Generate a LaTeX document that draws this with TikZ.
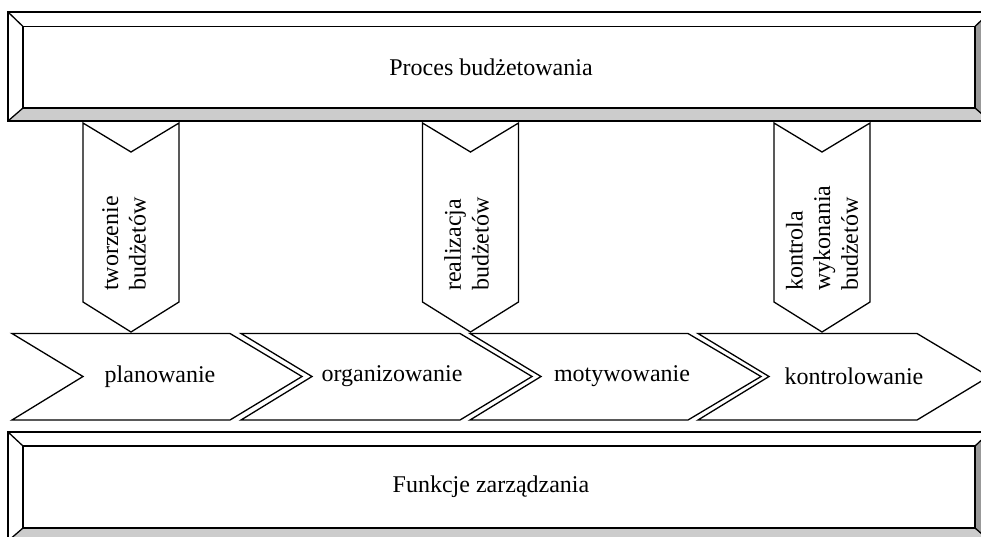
\documentclass[tikz,border=0pt]{standalone}
\usepackage{fontspec}
\setmainfont{Liberation Serif}
\definecolor{bevlight}{HTML}{CCCCCC}
\definecolor{bevdark}{HTML}{999999}
\begin{document}
\begin{tikzpicture}[x=1pt,y=-1pt,
  ln/.style={draw=black, line width=1.3pt, line join=miter, fill=white},
  bx/.style={draw=black, line width=1.3pt},
  lbl/.style={font=\fontsize{24}{27.6}\selectfont, inner sep=0pt},
  vlbl/.style={lbl, rotate=90, anchor=west, align=left}]
\useasboundingbox (0,0) rectangle (981,536);
\clip (0,0) rectangle (981,536);
\fill[white] (0,0) rectangle (981,536);

% ---- top bevel box ----
\fill[white] (8,12) rectangle (990,121);
\fill[bevlight] (8,121) -- (23,108) -- (975,108) -- (990,121) -- cycle;
\fill[bevdark] (975,26) -- (990,12) -- (990,121) -- (975,108) -- cycle;
\draw[bx] (8,12) rectangle (990,121);
\draw[bx] (23,26.5) rectangle (975,108);
\draw[bx] (8,12) -- (23,26.5) (990,12) -- (975,26.5) (8,121) -- (23,108) (990,121) -- (975,108);
\node[lbl] (proc) at (491,67) {Proces budżetowania};

% ---- bottom bevel box ----
\fill[white] (8,432) rectangle (990,541);
\fill[bevlight] (8,541) -- (23,528) -- (975,528) -- (990,541) -- cycle;
\fill[bevdark] (975,446) -- (990,432) -- (990,541) -- (975,528) -- cycle;
\draw[bx] (8,432) rectangle (990,541);
\draw[bx] (23,446) rectangle (975,528);
\draw[bx] (8,432) -- (23,446) (990,432) -- (975,446) (8,541) -- (23,528) (990,541) -- (975,528);
\node[lbl] (funk) at (491,487) {Funkcje zarządzania};

% ---- chevrons ----
\foreach \L/\R/\T in {12/230/302, 241/460/532, 470/688/761, 698/917/989}{
  \draw[ln] (\L,333.5) -- (\R,333.5) -- (\T,376.5) -- (\R,420) -- (\L,420) -- (\L+71,376.5) -- cycle;
}
\node[lbl] (plan) at (160,376.5) {planowanie};
\node[lbl] (org) at (392,376.5) {organizowanie};
\node[lbl] (mot) at (622,376.5) {motywowanie};
\node[lbl] (kon) at (854,376.5) {kontrolowanie};

% ---- down arrows ----
\foreach \X in {131,470.5,822}{
  \draw[ln] (\X-48,123) -- (\X,152) -- (\X+48,123) -- (\X+48,302) -- (\X,332) -- (\X-48,302) -- cycle;
}
\node[vlbl] (t1) at (124,291) {tworzenie\\budżetów};
\node[vlbl] (t2) at (466.5,291) {realizacja\\budżetów};
\node[vlbl] (t3) at (822,291) {kontrola\\wykonania\\budżetów};
\end{tikzpicture}
\end{document}
